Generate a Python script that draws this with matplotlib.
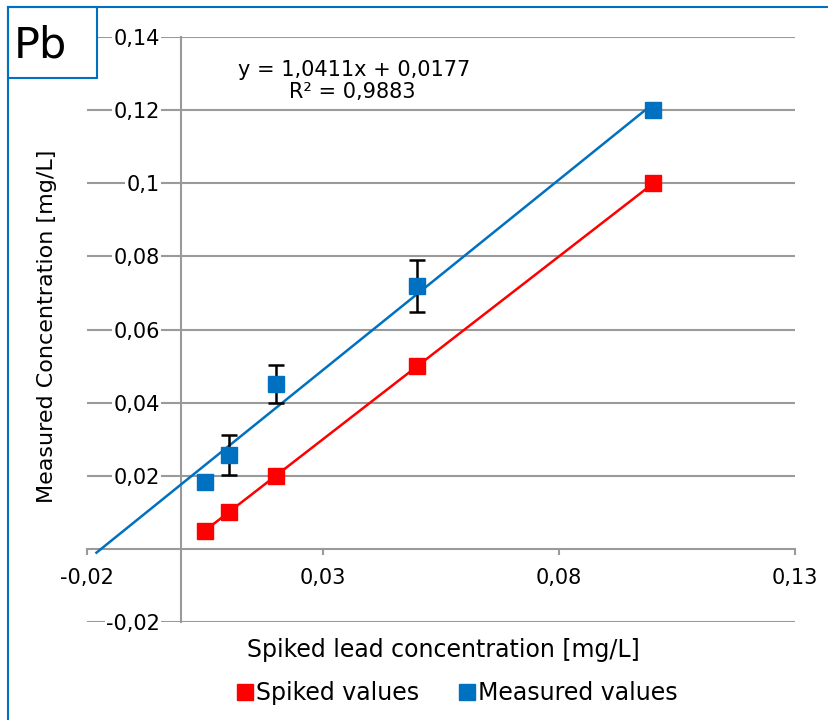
import matplotlib
matplotlib.use("Agg")
import matplotlib.pyplot as plt
from matplotlib.lines import Line2D
from matplotlib.patches import Rectangle
import numpy as np

# ---- data ----
spiked_x = [0.005, 0.01, 0.02, 0.05, 0.1]
spiked_y = [0.005, 0.01, 0.02, 0.05, 0.1]
measured_y = [0.0182, 0.0257, 0.0451, 0.0718, 0.1201]
measured_err = [0.0, 0.0055, 0.0052, 0.0071, 0.0]
trend_slope = 1.0411
trend_intercept = 0.0177
trend_x = [-0.018, 0.1]
x_ticks = [-0.02, 0.03, 0.08, 0.13]
x_tick_labels = ["-0,02", "0,03", "0,08", "0,13"]
y_ticks = [-0.02, 0.0, 0.02, 0.04, 0.06, 0.08, 0.1, 0.12, 0.14]
y_tick_labels = ["-0,02", "", "0,02", "0,04", "0,06", "0,08", "0,1", "0,12", "0,14"]

RED = "#FF0000"
BLUE = "#0070C0"
GRID = "#9A9A9A"

plt.rcParams['font.family'] = ['DejaVu Sans']

W, H = 829, 720
fig = plt.figure(figsize=(W / 100, H / 100), dpi=100)
L, R, T, B = 87, 795, 37, 622
ax = fig.add_axes([L / W, 1 - B / H, (R - L) / W, (B - T) / H])
ax.set_xlim(-0.02, 0.13)
ax.set_ylim(-0.02, 0.14)

for s in ['top', 'right']:
    ax.spines[s].set_visible(False)
ax.spines['left'].set_position(('data', 0))
ax.spines['bottom'].set_position(('data', 0))
for s in ['left', 'bottom']:
    ax.spines[s].set_color(GRID)
    ax.spines[s].set_linewidth(1.5)

ax.set_yticks(y_ticks)
ax.set_yticklabels(y_tick_labels, fontsize=15)
ax.tick_params(axis='y', length=0, pad=15.5)
for lbl in ax.get_yticklabels():
    lbl.set_bbox(dict(facecolor='white', edgecolor='none', pad=1.0))
ax.set_xticks(x_ticks)
ax.set_xticklabels(x_tick_labels, fontsize=15)
ax.tick_params(axis='x', direction='out', length=4, width=1.5, color=GRID, pad=10)

for yv in y_ticks:
    if yv != 0:
        ax.axhline(yv, color=GRID, lw=1.5, zorder=0)

# red series
ax.plot(spiked_x, spiked_y, color=RED, lw=1.8, zorder=3)
ax.plot(spiked_x, spiked_y, 's', color=RED, ms=12, zorder=4, linestyle='none')

# blue trendline
tx = np.array(trend_x)
ax.plot(tx, trend_slope * tx + trend_intercept, color=BLUE, lw=1.8, zorder=3)
ax.errorbar(spiked_x, measured_y, yerr=measured_err, fmt='none', ecolor='black',
            elinewidth=1.8, capsize=6, capthick=1.8, zorder=4)
ax.plot(spiked_x, measured_y, 's', color=BLUE, ms=12, zorder=5, linestyle='none')

ax.text(0.0365, 0.1309, "y = 1,0411x + 0,0177", ha='center', va='center', fontsize=15)
ax.text(0.0362, 0.1249, "R² = 0,9883", ha='center', va='center', fontsize=15)

fig.text(443 / W, 1 - 650 / H, "Spiked lead concentration [mg/L]", ha='center', va='center', fontsize=17)
fig.text(47 / W, 1 - 326 / H, "Measured Concentration [mg/L]", ha='center', va='center',
         rotation=90, fontsize=16)

handles = [Line2D([], [], marker='s', color=RED, linestyle='none', ms=12),
           Line2D([], [], marker='s', color=BLUE, linestyle='none', ms=12)]
fig.legend(handles, ["Spiked values", "Measured values"], loc='center',
           bbox_to_anchor=(456 / W, 1 - 693 / H), ncol=2, frameon=False, fontsize=17,
           handletextpad=0.0, columnspacing=1.6, handlelength=0.9)

# frame lines and Pb box
fig.add_artist(Line2D([8 / W, 1], [1 - 7 / H, 1 - 7 / H], color=BLUE, lw=1.5))
fig.add_artist(Line2D([8 / W, 8 / W], [0, 1 - 7 / H], color=BLUE, lw=1.5))
fig.add_artist(Rectangle((8 / W, 1 - 78 / H), 89 / W, 71 / H, transform=fig.transFigure,
                         facecolor='white', edgecolor=BLUE, lw=1.5))
fig.text(14 / W, 1 - 46 / H, "Pb", ha='left', va='center', fontsize=31)

fig.savefig("out.png", dpi=100)
